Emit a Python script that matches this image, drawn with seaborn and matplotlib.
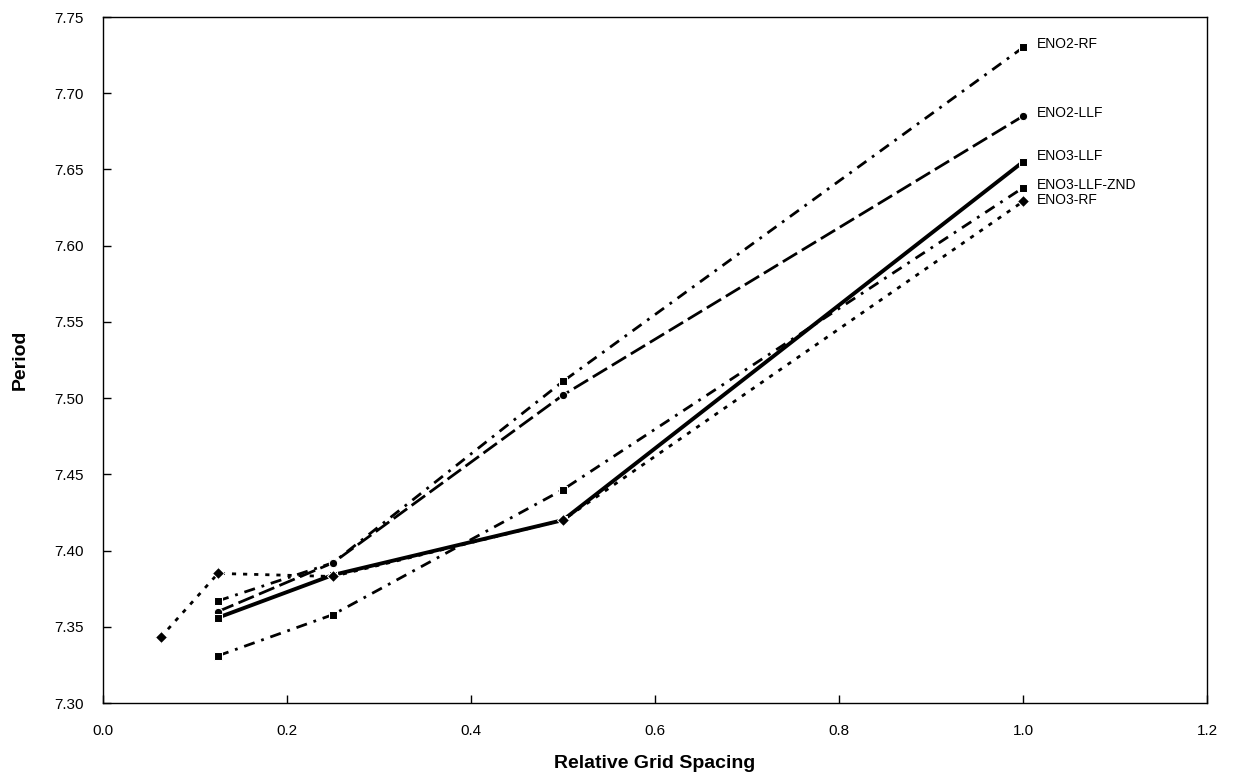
import matplotlib
matplotlib.use("Agg")
import matplotlib.pyplot as plt
import seaborn as sns
import pandas as pd

# Period versus relative grid spacing for each scheme
eno2_rf_x = [0.125, 0.25, 0.5, 1.0]
eno2_rf_y = [7.367, 7.392, 7.511, 7.730]

eno2_llf_x = [0.125, 0.25, 0.5, 1.0]
eno2_llf_y = [7.360, 7.392, 7.502, 7.685]

eno3_llf_x = [0.125, 0.25, 0.5, 1.0]
eno3_llf_y = [7.356, 7.384, 7.420, 7.655]

eno3_llf_znd_x = [0.125, 0.25, 0.5, 1.0]
eno3_llf_znd_y = [7.331, 7.358, 7.440, 7.638]

eno3_rf_x = [0.0625, 0.125, 0.25, 0.5, 1.0]
eno3_rf_y = [7.343, 7.385, 7.383, 7.420, 7.629]

series_names = ["ENO2-RF", "ENO2-LLF", "ENO3-LLF", "ENO3-LLF-ZND", "ENO3-RF"]
series_x = [eno2_rf_x, eno2_llf_x, eno3_llf_x, eno3_llf_znd_x, eno3_rf_x]
series_y = [eno2_rf_y, eno2_llf_y, eno3_llf_y, eno3_llf_znd_y, eno3_rf_y]

xticks = [0.0, 0.2, 0.4, 0.6, 0.8, 1.0, 1.2]
yticks = [7.30, 7.35, 7.40, 7.45, 7.50, 7.55, 7.60, 7.65, 7.70, 7.75]

rows = []
for name, xs, ys in zip(series_names, series_x, series_y):
    for i, (x, y) in enumerate(zip(xs, ys)):
        rows.append({"Scheme": name, "Spacing": x, "Period": y, "order": i})
df = pd.DataFrame(rows)

sns.set_style("white")
plt.rcParams["font.family"] = ["Liberation Sans", "DejaVu Sans"]
plt.rcParams["text.color"] = "black"
plt.rcParams["axes.labelcolor"] = "black"
plt.rcParams["xtick.color"] = "black"
plt.rcParams["ytick.color"] = "black"

fig = plt.figure(figsize=(12.38, 7.8), dpi=100)
ax = fig.add_axes([0.0832, 0.0987, 0.8918, 0.8795])

dashes = {
    "ENO2-RF": (4, 2.5, 1, 2.5),
    "ENO2-LLF": (6, 2),
    "ENO3-LLF": "",
    "ENO3-LLF-ZND": (4, 2.5, 1, 2.5),
    "ENO3-RF": (1.5, 2.5),
}
markers = {
    "ENO2-RF": "s",
    "ENO2-LLF": "o",
    "ENO3-LLF": "s",
    "ENO3-LLF-ZND": "s",
    "ENO3-RF": "D",
}
palette = {n: "black" for n in series_names}

sns.lineplot(
    data=df, x="Spacing", y="Period", hue="Scheme", style="Scheme",
    units="Scheme", estimator=None, sort=False,
    dashes=dashes, markers=markers, palette=palette,
    markersize=6, linewidth=2.0, legend=False, ax=ax,
)
# the solid line is drawn a little heavier
for line in ax.get_lines():
    if line.get_linestyle() == "-":
        line.set_linewidth(2.8)

label_offsets = {
    "ENO2-RF": 0.002,
    "ENO2-LLF": 0.002,
    "ENO3-LLF": 0.004,
    "ENO3-LLF-ZND": 0.002,
    "ENO3-RF": 0.001,
}
for name, xs, ys in zip(series_names, series_x, series_y):
    ax.text(xs[-1] + 0.015, ys[-1] + label_offsets[name], name, fontsize=10,
            va="center", ha="left", color="black")

ax.set_xlim(0.0, 1.2)
ax.set_ylim(7.30, 7.75)
ax.set_xticks(xticks)
ax.set_yticks(yticks)
ax.set_xticklabels([f"{v:.1f}" for v in xticks], fontsize=11)
ax.set_yticklabels([f"{v:.2f}" for v in yticks], fontsize=11)
ax.tick_params(axis="both", direction="in", length=6, width=1, color="black",
               labelcolor="black", top=False, right=False, left=True, bottom=True)
ax.tick_params(axis="x", pad=15)
ax.tick_params(axis="y", pad=14)
for s in ax.spines.values():
    s.set_color("black")
    s.set_linewidth(1.0)
    s.set_visible(True)

ax.set_xlabel("Relative Grid Spacing", fontsize=14, fontweight="bold",
              labelpad=12, color="black")
ax.set_ylabel("Period", fontsize=14, fontweight="bold", labelpad=18,
              color="black")

fig.savefig("out.png", dpi=100)
